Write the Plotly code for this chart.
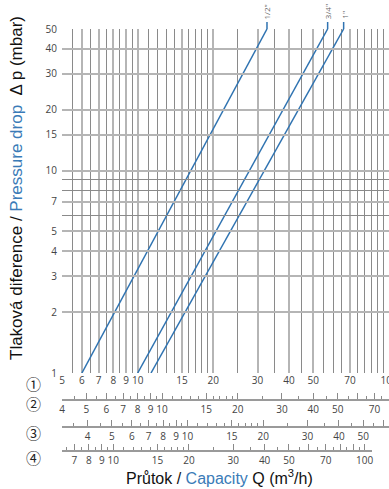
import math
import plotly.graph_objects as go

# ---- data ----
sizes = ['1/2"', '3/4"', '1"']
q_at_dp_min = [6.0, 10.0, 11.3]     # m3/h at 1 mbar
q_at_dp_max = [32.7, 57.0, 66.0]    # m3/h at 50 mbar
dp_range = [1, 50]                  # mbar

x_labels = [5, 6, 7, 8, 9, 10, 15, 20, 30, 40, 50, 70, 100]
x_minor = [5.5, 6.5, 7.5, 8.5, 9.5, 11, 12, 13, 14, 16, 17, 18, 19,
           25, 35, 45, 55, 60, 65, 75, 80, 85, 90, 95]
y_labels = [1, 2, 3, 4, 5, 7, 10, 15, 20, 30, 40, 50]
y_minor = [6, 8, 9]

row_numbers = ['①', '②', '③', '④']
# main Q = row value * factor
row_factors = [1.25, 1.58, 0.8]
row2_labels = [4, 5, 6, 7, 8, 9, 10, 15, 20, 30, 40, 50, 70]
row2_long = [4, 5, 6, 7, 8, 9, 10, 15, 20, 30, 40, 50, 60, 70, 80]
row2_short = [4.5, 5.5, 6.5, 7.5, 8.5, 9.5, 11, 12, 13, 14, 16, 17, 18, 19,
              25, 35, 45, 55, 65, 75]
row3_labels = [4, 5, 6, 7, 8, 9, 10, 15, 20, 30, 40, 50]
row3_long = [4, 5, 6, 7, 8, 9, 10, 15, 20, 30, 40, 50, 60]
row3_short = [3.5, 4.5, 5.5, 6.5, 7.5, 8.5, 9.5, 11, 12, 13, 14, 16, 17, 18, 19,
              25, 35, 45, 55]
row4_labels = [7, 8, 9, 10, 15, 20, 30, 40, 50, 70, 100]
row4_long = [7, 8, 9, 10, 15, 20, 30, 40, 50, 60, 70, 80, 90, 100]
row4_short = [6.5, 7.5, 8.5, 9.5, 11, 12, 13, 14, 16, 17, 18, 19,
              25, 35, 45, 55, 65, 75, 85, 95]

BLUE = '#2f73b1'
TXT_BLUE = '#3a7bb7'
X_MIN, X_MAX = 5, 100

# pixel layout helpers
W, H = 389, 489
L, R, T, B = 62, 0, 29, 38
PH = H - T - B
PW = W - L - R
def py(pix):
    return (H - B - pix) / PH
def px(pix):
    return (pix - L) / PW

fig = go.Figure()
for name, q0, q1 in zip(sizes, q_at_dp_min, q_at_dp_max):
    fig.add_trace(go.Scatter(x=[q0, q1], y=dp_range, mode='lines',
                             line=dict(color=BLUE, width=1.5),
                             name=name, showlegend=False, hoverinfo='skip'))

def lab(vals, labels):
    return [str(v) if v in labels else '' for v in vals]

tickfont = dict(family='Open Sans', size=10, color='#444')

layout = dict(
    width=W, height=H, autosize=False,
    margin=dict(l=L, r=R, t=T, b=B, pad=0, autoexpand=False),
    paper_bgcolor='white', plot_bgcolor='rgba(0,0,0,0)',
    showlegend=False,
    xaxis=dict(type='log', range=[math.log10(X_MIN), math.log10(X_MAX)],
               domain=[0, 1], anchor='y', automargin=False,
               tickvals=x_labels, ticktext=[str(v) for v in x_labels],
               showgrid=True, gridcolor='#b5b5b5', gridwidth=1.5,
               minor=dict(tickvals=x_minor, showgrid=True, gridcolor='#8a8a8a',
                          gridwidth=1, ticks=''),
               ticks='', showline=False, zeroline=False, tickfont=tickfont,
               ticklabeloverflow='allow'),
    yaxis=dict(type='log', range=[0, math.log10(dp_range[1])],
               domain=[py(373), 1], anchor='x', automargin=False,
               tickvals=y_labels, ticktext=[str(v) for v in y_labels],
               showgrid=True, gridcolor='#b5b5b5', gridwidth=1.5,
               minor=dict(tickvals=y_minor, showgrid=True, gridcolor='#8a8a8a',
                          gridwidth=1, ticks=''),
               ticks='', showline=False, zeroline=False, tickfont=tickfont,
               ticklabelstandoff=4),
)

rows = [(row2_labels, row2_long, row2_short, 400, 1.0),
        (row3_labels, row3_long, row3_short, 427, 1.0),
        (row4_labels, row4_long, row4_short, 451, px(372))]
span = math.log10(X_MAX) - math.log10(X_MIN)
for i, ((labels, longs, shorts, ypix, dom), f) in enumerate(zip(rows, row_factors)):
    lo = math.log10(X_MIN / f)
    hi = lo + span * dom
    axname = 'x%d' % (i + 2)
    # invisible anchor trace so the scale axis is drawn
    fig.add_trace(go.Scatter(x=[10 ** lo, 10 ** hi], y=[1, 1], mode='markers',
                             marker=dict(opacity=0, size=1), xaxis=axname, yaxis='y',
                             showlegend=False, hoverinfo='skip'))
    layout['xaxis%d' % (i + 2)] = dict(
        type='log', anchor='free', position=max(py(ypix), 0), domain=[0, dom],
        range=[lo, hi], automargin=False,
        showline=True, linecolor='#9a9a9a', linewidth=1.5,
        ticks='inside', ticklen=6, tickwidth=1, tickcolor='#8a8a8a',
        tickvals=longs, ticktext=lab(longs, labels),
        minor=dict(tickvals=shorts, ticks='inside', ticklen=3, tickwidth=1,
                   tickcolor='#8a8a8a', showgrid=False),
        showgrid=False, zeroline=False, tickfont=tickfont,
        ticklabeloverflow='allow')

fig.update_layout(**layout)

annotations = []
shapes = []
for name, q1 in zip(sizes, q_at_dp_max):
    shapes.append(dict(type='line', xref='x', yref='paper', x0=q1, x1=q1,
                       y0=1, y1=py(22), line=dict(color=BLUE, width=1.5)))
    annotations.append(dict(x=math.log10(q1), y=py(21), xref='x', yref='paper',
                            text=name, showarrow=False, textangle=-90,
                            xanchor='center', yanchor='bottom',
                            font=dict(family='Open Sans', size=8, color='#666')))

for txt, ypix in zip(row_numbers, [383, 403, 432, 457]):
    annotations.append(dict(x=px(33), y=py(ypix), xref='paper',
                            yref='paper', text=txt, showarrow=False,
                            xanchor='center', yanchor='middle',
                            font=dict(family='Noto Sans CJK JP', size=15, color='#222')))

annotations.append(dict(
    x=px(219), y=py(477), xref='paper', yref='paper',
    text="Průtok / <span style='color:%s'>Capacity</span> Q (m<sup>3</sup>/h)" % TXT_BLUE,
    showarrow=False, xanchor='center', yanchor='middle',
    font=dict(family='Liberation Sans', size=16, color='#111')))
annotations.append(dict(
    x=px(17), y=py(188), xref='paper', yref='paper',
    text="Tlaková diference / <span style='color:%s'>Pressure drop</span>  Δ p (mbar)" % TXT_BLUE,
    showarrow=False, textangle=-90, xanchor='center', yanchor='middle',
    font=dict(family='Liberation Sans', size=17, color='#111')))

fig.update_layout(annotations=annotations, shapes=shapes)
fig.write_html("out.html", config={'displayModeBar': False},
               post_script="document.body.style.margin='0';")
